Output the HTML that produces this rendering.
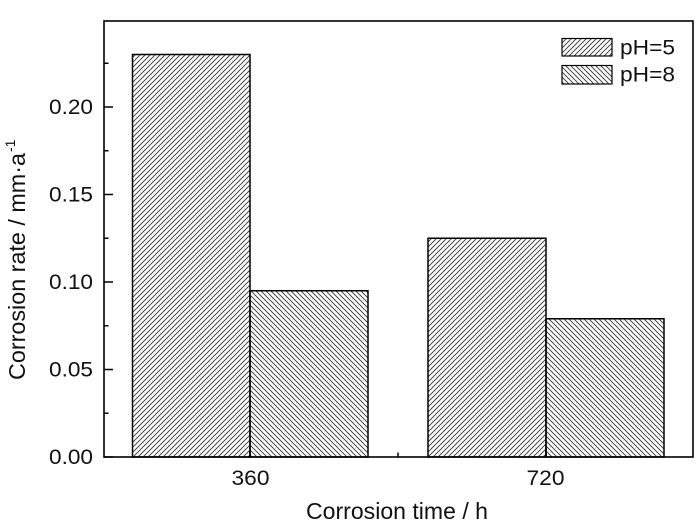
<!DOCTYPE html>
<html>
<head>
<meta charset="utf-8">
<style>
  html,body{margin:0;padding:0;background:#fff;}
  svg{display:block;}
  text{font-family:"Liberation Sans", Arial, sans-serif; fill:#111;}
</style>
</head>
<body>
<svg width="700" height="524" viewBox="0 0 700 524" xmlns="http://www.w3.org/2000/svg">
  <defs>
    <pattern id="fwd" patternUnits="userSpaceOnUse" width="5" height="5">
      <path d="M-1,1 l2,-2 M0,5 l5,-5 M4,6 l2,-2" stroke="#333" stroke-width="0.9"/>
    </pattern>
    <pattern id="bwd" patternUnits="userSpaceOnUse" width="5" height="5">
      <path d="M-1,4 l2,2 M0,0 l5,5 M4,-1 l2,2" stroke="#333" stroke-width="0.9"/>
    </pattern>
  </defs>
  <rect width="700" height="524" fill="#fff"/>

  <!-- bars -->
  <rect x="132.5" y="54.5" width="117.5" height="402.5" fill="url(#fwd)" stroke="#000" stroke-width="1.5"/>
  <rect x="250" y="290.75" width="118" height="166.25" fill="url(#bwd)" stroke="#000" stroke-width="1.5"/>
  <rect x="428" y="238.25" width="118" height="218.75" fill="url(#fwd)" stroke="#000" stroke-width="1.5"/>
  <rect x="546" y="318.75" width="118" height="138.25" fill="url(#bwd)" stroke="#000" stroke-width="1.5"/>

  <!-- frame -->
  <rect x="104" y="21" width="589" height="436" fill="none" stroke="#000" stroke-width="1.6"/>

  <!-- y ticks -->
  <g stroke="#000" stroke-width="1.5">
    <line x1="104" y1="457" x2="113" y2="457"/>
    <line x1="104" y1="369.5" x2="113" y2="369.5"/>
    <line x1="104" y1="282" x2="113" y2="282"/>
    <line x1="104" y1="194.5" x2="113" y2="194.5"/>
    <line x1="104" y1="107" x2="113" y2="107"/>
    <line x1="104" y1="413.25" x2="108.5" y2="413.25"/>
    <line x1="104" y1="325.75" x2="108.5" y2="325.75"/>
    <line x1="104" y1="238.25" x2="108.5" y2="238.25"/>
    <line x1="104" y1="150.75" x2="108.5" y2="150.75"/>
    <line x1="104" y1="63.25" x2="108.5" y2="63.25"/>
    <!-- x ticks -->
    <line x1="250" y1="457" x2="250" y2="448"/>
    <line x1="546" y1="457" x2="546" y2="448"/>
    <line x1="398" y1="457" x2="398" y2="452.5"/>
  </g>

  <!-- y tick labels -->
  <g font-size="21" text-anchor="end">
    <text x="93" y="464" textLength="44" lengthAdjust="spacingAndGlyphs">0.00</text>
    <text x="93" y="376.5" textLength="44" lengthAdjust="spacingAndGlyphs">0.05</text>
    <text x="93" y="289" textLength="44" lengthAdjust="spacingAndGlyphs">0.10</text>
    <text x="93" y="201.5" textLength="44" lengthAdjust="spacingAndGlyphs">0.15</text>
    <text x="93" y="114" textLength="44" lengthAdjust="spacingAndGlyphs">0.20</text>
  </g>

  <!-- x tick labels -->
  <g font-size="21" text-anchor="middle">
    <text x="250.5" y="485" textLength="38" lengthAdjust="spacingAndGlyphs">360</text>
    <text x="545.5" y="485" textLength="38" lengthAdjust="spacingAndGlyphs">720</text>
  </g>

  <!-- x title -->
  <text x="306" y="519" font-size="23" textLength="182" lengthAdjust="spacingAndGlyphs">Corrosion time / h</text>

  <!-- y title -->
  <g transform="translate(25,380) rotate(-90)">
    <text x="0" y="0" font-size="23" textLength="227" lengthAdjust="spacingAndGlyphs">Corrosion rate / mm·a</text>
    <text x="228" y="-10" font-size="14">-1</text>
  </g>

  <!-- legend -->
  <rect x="562" y="38.5" width="50" height="17.5" fill="url(#fwd)" stroke="#000" stroke-width="1.2"/>
  <rect x="562" y="65.5" width="50" height="18.5" fill="url(#bwd)" stroke="#000" stroke-width="1.2"/>
  <text x="620" y="54.5" font-size="21" textLength="55" lengthAdjust="spacingAndGlyphs">pH=5</text>
  <text x="620" y="81.5" font-size="21" textLength="55" lengthAdjust="spacingAndGlyphs">pH=8</text>
</svg>
</body>
</html>
